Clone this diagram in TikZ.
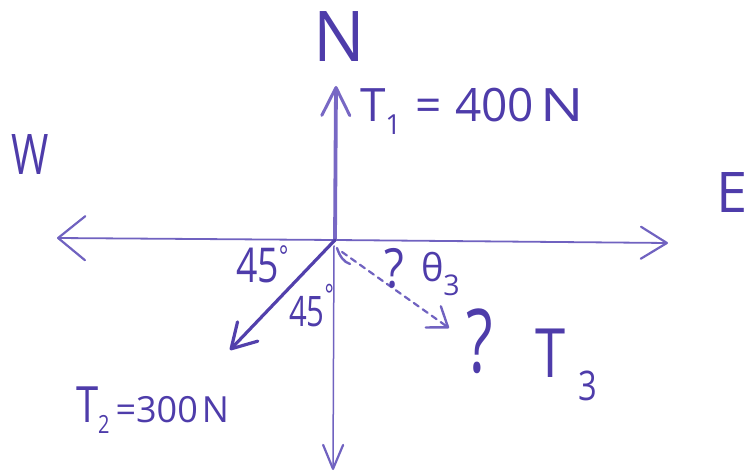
\documentclass[tikz,border=0pt]{standalone}
\usepackage{fontspec}
\setmainfont{Open Sans}
\usetikzlibrary{arrows.meta}
\definecolor{ink}{RGB}{78,60,170}
\definecolor{pen}{RGB}{112,98,192}
\definecolor{penT}{RGB}{120,104,196}
\definecolor{penD}{RGB}{82,64,172}
\newcommand\lsz[3]{\fontsize{#1}{#1}\selectfont\scalebox{#2}[1]{#3}}
\begin{document}
\begin{tikzpicture}[x=1pt,y=-1pt,
  axis/.style={draw=pen,line width=1.8pt,line cap=round},
  force/.style={line width=3.8pt,line cap=round},
  lbl/.style={text=ink,inner sep=0pt,outer sep=0pt,anchor=base west}]
\useasboundingbox (0,0) rectangle (748,473);
% points
\coordinate (O) at (335,240);
\coordinate (Wend) at (57,238);
\coordinate (Eend) at (668,243);
\coordinate (Stop) at (334,246);
\coordinate (Send) at (333,470);
\coordinate (T1tip) at (336,86);
\coordinate (T2tip) at (230,350);
\coordinate (T3start) at (342,252);
\coordinate (T3tip) at (449,328);
% axes
\draw[axis,-{Straight Barb[length=27pt,width=44pt,round,line width=2.2pt]}] (O) -- (Wend);
\draw[axis,-{Straight Barb[length=26pt,width=32pt,round,line width=2.2pt]}] (O) -- (Eend);
\draw[axis,line width=1.5pt,-{Straight Barb[length=24pt,width=20pt,round,line width=2.2pt]}] (Stop) -- (Send);
% forces
\draw[force,draw=penT,-{Straight Barb[length=28pt,width=28pt,round,line width=3pt]}] (O) -- (T1tip);
\draw[force,draw=penD,line width=3.2pt,-{Straight Barb[length=24pt,width=28pt,round]}] (O) -- (T2tip);
\draw[draw=pen,line width=2.2pt,dash pattern=on 6pt off 5pt,line cap=round,
  -{Straight Barb[length=18pt,width=26pt,round,line width=2.4pt]}] (T3start) -- (T3tip);
% small angle mark
\coordinate (a1) at (337,248);
\coordinate (a2) at (350,264);
\draw[draw=pen,line width=2.4pt,line cap=round] (a1) .. controls (340,257) and (344,262) .. (a2);
% labels
\node[lbl] (N) at (313,62) {\lsz{70}{0.98}{N}};
\node[lbl] (T1) at (360,122) {\lsz{46}{1}{T\raisebox{-0.28em}{\scalebox{0.6}{1}}\hspace{0.3em}=\hspace{0.3em}400\hspace{0.15em}\scalebox{1.25}[1]{N}}};
\node[lbl] (W) at (11,175) {\lsz{56}{0.72}{W}};
\node[lbl] (E) at (716,213) {\lsz{56}{1}{E}};
\node[lbl] (a45) at (236,283) {\lsz{48}{0.78}{45\raisebox{0.35em}{\scalebox{0.6}{°}}}};
\node[lbl] (b45) at (289,327) {\lsz{42}{0.74}{45\raisebox{0.5em}{\scalebox{0.7}{°}}}};
\node[lbl] (q1) at (384,288) {\lsz{54}{0.85}{?}};
\node[lbl] (th) at (421,282) {\lsz{38}{1}{θ\raisebox{-0.35em}{\scalebox{0.75}{3}}}};
\node[lbl] (q2) at (466,373) {\lsz{88}{0.7}{?}};
\node[lbl] (T3) at (535,378) {\lsz{68}{0.8}{T\hspace{0.25em}\raisebox{-0.33em}{\scalebox{0.6}{3}}}};
\node[lbl] (T2) at (76,423) {\lsz{50}{0.8}{T\raisebox{-0.22em}{\scalebox{0.5}{2}}}\hspace{6pt}\lsz{36}{1}{=300\hspace{4pt}N}};
\end{tikzpicture}
\end{document}
